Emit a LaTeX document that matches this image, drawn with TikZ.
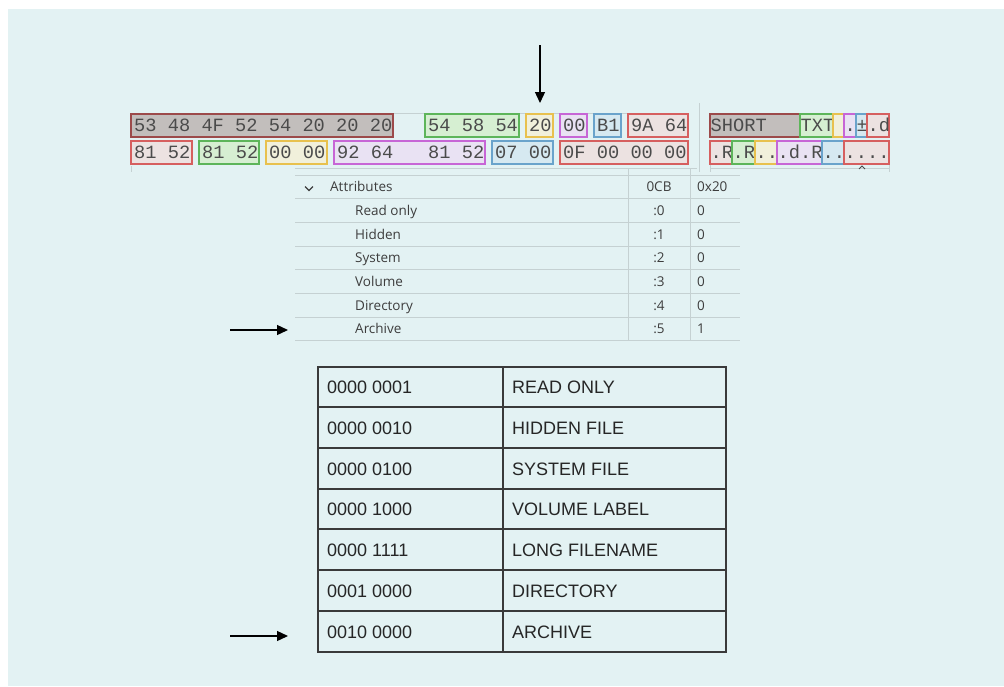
\documentclass[tikz,border=0pt]{standalone}
\usepackage{fontspec}
\setmainfont{Liberation Sans}
\newfontfamily\hexmono{Liberation Mono}
\newfontfamily\uifont{Open Sans}
\usetikzlibrary{arrows.meta}

\definecolor{bgblue}{HTML}{E3F2F3}
\definecolor{fillgry}{HTML}{C2BEBC}
\definecolor{linegry}{HTML}{9C4A4A}
\definecolor{fillred}{HTML}{ECE2E1}
\definecolor{linered}{HTML}{D65F5F}
\definecolor{fillgrn}{HTML}{D6EFD2}
\definecolor{linegrn}{HTML}{5DB55A}
\definecolor{fillylw}{HTML}{F1F0DB}
\definecolor{lineylw}{HTML}{E8C14E}
\definecolor{fillpur}{HTML}{E9E2F3}
\definecolor{linepur}{HTML}{C766D6}
\definecolor{fillblu}{HTML}{D6E9F1}
\definecolor{lineblu}{HTML}{6AA3CB}
\definecolor{hexgray}{HTML}{4B4B4B}
\definecolor{attrgray}{HTML}{3D3D3D}
\definecolor{gridgray}{HTML}{C5D1D2}
\definecolor{tabline}{HTML}{3A3A3A}

\tikzset{
  hexbox/.style={line width=1.1pt},
  hextxt/.style={anchor=base west,inner sep=0pt,text=hexgray,
    font=\hexmono\fontsize{18.7}{20}\selectfont},
  attrtxt/.style={anchor=base west,inner sep=0pt,text=attrgray,
    font=\uifont\fontsize{13.5}{15}\selectfont},
  tabtxt/.style={anchor=base west,inner sep=0pt,text=black!85,
    font=\fontsize{18}{20}\selectfont},
  thinline/.style={draw=gridgray,line width=1pt},
}

\begin{document}
\begin{tikzpicture}[x=1pt,y=-1pt,>={Triangle[length=11pt,width=10pt]}]
\useasboundingbox (0,0) rectangle (1004,686);
\fill[white] (0,0) rectangle (1004,686);
\fill[bgblue] (8,9) rectangle (1004,686);

%hex-paneeli
\draw[thinline] (131,113)--(689,113);
\draw[thinline] (710,113)--(889,113);
\draw[thinline] (699,103)--(699,172);
\draw[thinline] (131,166)--(131,172);
% rivi 1
\foreach \xa/\xb/\c/\t in {131/393/gry/{53 48 4F 52 54 20 20 20},425/519/grn/{54 58 54},
  526/553/ylw/{20},560/587/pur/{00},594/621/blu/{B1},628/688/red/{9A 64}}
{
\draw[hexbox,fill=fill\c,draw=line\c] (\xa,114) rectangle (\xb,137);
\node[hextxt] (ha-\xa) at (\xa+3,131) {\t};
}
% rivi 2
\foreach \xa/\xb/\c/\t in {131/192/red/{81 52},199/259/grn/{81 52},266/327/ylw/{00 00},
  334/485/pur/{92 64},492/553/blu/{07 00},560/688/red/{0F 00 00 00}}
{
\draw[hexbox,fill=fill\c,draw=line\c] (\xa,141) rectangle (\xb,164);
\node[hextxt] (hb-\xa) at (\xa+3,158) {\t};
}
\node[hextxt] (hb-428) at (428,158) {81 52};

%teksti-paneeli
\foreach \xa/\xb/\c/\t in {710/800/gry/{SHORT},800/833/grn/{TXT},833/844/ylw/{},
  844/856/pur/{.},856/867/blu/{±},867/889/red/{.d}}
{
\draw[hexbox,fill=fill\c,draw=line\c] (\xa,114) rectangle (\xb,137);
\node[hextxt] (ta-\xa) at (\xa+0.5,131) {\t};
}
\foreach \xa/\xb/\c/\t in {710/732/red/{.R},732/755/grn/{.R},755/777/ylw/{..},
  777/822/pur/{.d.R},822/844/blu/{..},844/889/red/{....}}
{
\draw[hexbox,fill=fill\c,draw=line\c] (\xa,141) rectangle (\xb,164);
\node[hextxt] (tb-\xa) at (\xa+0.5,158) {\t};
}
\draw[thinline] (710,168)--(889,168);
\draw[thinline] (710,165)--(710,172);
\draw[thinline] (889,165)--(889,172);
\draw[thinline,draw=hexgray] (859,169)--(862,166)--(865,169);

%attribuutit
\draw[thinline] (295,168)--(697,168);
\foreach \y in {175,198,222,246,269,293,317,340}
{
\draw[thinline] (295,\y)--(740,\y);
}
\draw[thinline] (628,168)--(628,340);
\draw[thinline] (690,168)--(690,340);
\draw[attrgray,line width=1.3pt] (305,186.5)--(309,190.5)--(313,186.5);
\node[attrtxt] (attr) at (330,191.5) {Attributes};
\node[attrtxt,anchor=base] (attrcb) at (659,191.5) {0CB};
\node[attrtxt] (attrval) at (697,191.5) {0x20};
\foreach \y/\n/\b/\v in {215/Read only/0/0,239/Hidden/1/0,262.5/System/2/0,
  286/Volume/3/0,310/Directory/4/0,333.5/Archive/5/1}
{
\node[attrtxt] (an-\b) at (355,\y) {\n};
\node[attrtxt,anchor=base] (ab-\b) at (659,\y) {:\b};
\node[attrtxt] (av-\b) at (697,\y) {\v};
}

%taulukko
\draw[tabline,line width=1.2pt] (318,367) rectangle (726,652);
\draw[tabline,line width=1.2pt] (503,367)--(503,652);
\foreach \y in {407,448,489,529,570,611}
{
\draw[tabline,line width=1.2pt] (318,\y)--(726,\y);
}
\foreach \y/\bits/\name in {393.5/0000 0001/READ ONLY,434/0000 0010/HIDDEN FILE,
  475/0000 0100/SYSTEM FILE,515.5/0000 1000/VOLUME LABEL,556/0000 1111/LONG FILENAME,
  597/0001 0000/DIRECTORY,638/0010 0000/ARCHIVE}
{
\node[tabtxt] (bits-\y) at (327,\y) {\bits};
\node[tabtxt] (name-\y) at (512,\y) {\name};
}

%nuolet
\coordinate (topstart) at (540,45);
\coordinate (toptip) at (540,103);
\coordinate (attrstart) at (230,330);
\coordinate (attrtip) at (288,330);
\coordinate (tabstart) at (230,636);
\coordinate (tabtip) at (288,636);
\draw[->,line width=1.3pt] (topstart)--(toptip);
\draw[->,line width=1.3pt] (attrstart)--(attrtip);
\draw[->,line width=1.3pt] (tabstart)--(tabtip);
\end{tikzpicture}
\end{document}
